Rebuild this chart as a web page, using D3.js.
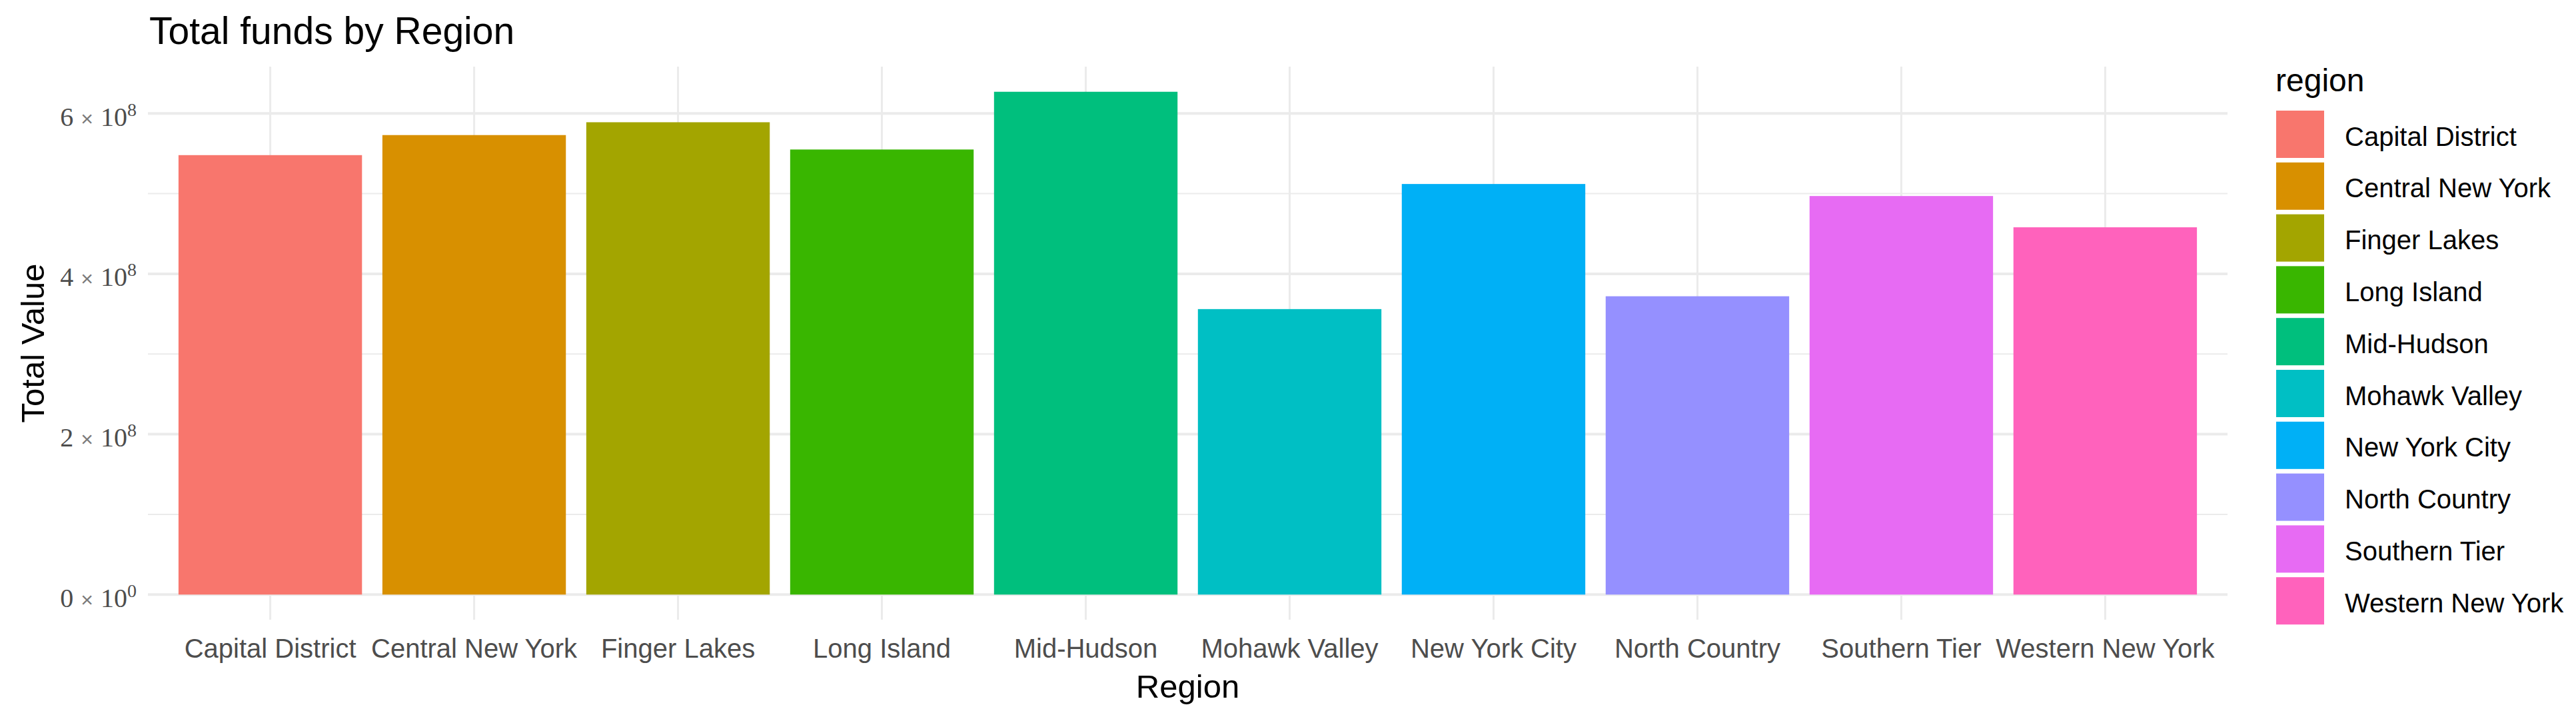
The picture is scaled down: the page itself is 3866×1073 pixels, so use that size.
<!DOCTYPE html>
<html>
<head>
<meta charset="utf-8">
<script src="https://cdn.jsdelivr.net/npm/d3@7"></script>
<style>
  html, body { margin: 0; padding: 0; background: #ffffff; }
  svg { display: block; }
</style>
</head>
<body>
<script>
// ---- data ----
const categories = ["Capital District", "Central New York", "Finger Lakes", "Long Island", "Mid-Hudson",
                    "Mohawk Valley", "New York City", "North Country", "Southern Tier", "Western New York"];
const totals = [5.48e8, 5.73e8, 5.89e8, 5.55e8, 6.27e8, 3.56e8, 5.12e8, 3.72e8, 4.97e8, 4.58e8];
const barColors = ["#F8766D", "#D89000", "#A3A500", "#39B600", "#00BF7D",
                   "#00BFC4", "#00B0F6", "#9590FF", "#E76BF3", "#FF62BC"];
const yMajorTicks = [0, 2e8, 4e8, 6e8];
const yMinorTicks = [1e8, 3e8, 5e8];
const yTickMantissa = ["0", "2", "4", "6"];
const yTickExponent = ["0", "8", "8", "8"];
const titleText = "Total funds by Region";
const xTitle = "Region";
const yTitle = "Total Value";
const legendTitle = "region";

// ---- layout ----
const W = 3866, H = 1073;
const panel = { left: 222, right: 3343, top: 100, bottom: 930 };
const sans = "'Liberation Sans', Arial, sans-serif";
const serif = "'Liberation Serif', 'Times New Roman', serif";

const svg = d3.select("body").append("svg")
  .attr("width", W).attr("height", H)
  .attr("viewBox", `0 0 ${W} ${H}`);

svg.append("rect").attr("width", W).attr("height", H).attr("fill", "#ffffff");

const x = d3.scaleBand()
  .domain(categories)
  .range([panel.left, panel.right])
  .paddingInner(0.1)
  .paddingOuter(0.15);

const yMax = d3.max(totals);
const y = d3.scaleLinear()
  .domain([-0.05 * yMax, 1.05 * yMax])
  .range([panel.bottom, panel.top]);

const color = d3.scaleOrdinal().domain(categories).range(barColors);

// ---- grid ----
const grid = svg.append("g");
grid.selectAll("line.minor").data(yMinorTicks).join("line")
  .attr("x1", panel.left).attr("x2", panel.right)
  .attr("y1", d => y(d)).attr("y2", d => y(d))
  .attr("stroke", "#EBEBEB").attr("stroke-width", 2);
grid.selectAll("line.majory").data(yMajorTicks).join("line")
  .attr("x1", panel.left).attr("x2", panel.right)
  .attr("y1", d => y(d)).attr("y2", d => y(d))
  .attr("stroke", "#EBEBEB").attr("stroke-width", 4);
grid.selectAll("line.majorx").data(categories).join("line")
  .attr("x1", d => x(d) + x.bandwidth() / 2).attr("x2", d => x(d) + x.bandwidth() / 2)
  .attr("y1", panel.top).attr("y2", panel.bottom)
  .attr("stroke", "#EBEBEB").attr("stroke-width", 3);

// ---- bars ----
svg.append("g").selectAll("rect").data(categories).join("rect")
  .attr("x", d => x(d))
  .attr("width", x.bandwidth())
  .attr("y", (d, i) => y(totals[i]))
  .attr("height", (d, i) => y(0) - y(totals[i]))
  .attr("fill", d => color(d));

// ---- x axis ----
const xAxis = svg.append("g")
  .attr("transform", `translate(0, ${panel.bottom})`)
  .call(d3.axisBottom(x).tickSize(0).tickPadding(0));
xAxis.select(".domain").remove();
xAxis.selectAll("text")
  .attr("y", 57).attr("dy", null)
  .attr("font-family", sans).attr("font-size", 40).attr("fill", "#4D4D4D");

// ---- y axis ----
const yAxis = svg.append("g")
  .attr("transform", `translate(205, 0)`)
  .call(d3.axisLeft(y).tickValues(yMajorTicks).tickSize(0).tickPadding(0).tickFormat(""));
yAxis.select(".domain").remove();
yAxis.selectAll(".tick text").each(function(d) {
  const i = yMajorTicks.indexOf(d);
  const t = d3.select(this)
    .attr("x", 0).attr("dy", null).attr("y", 18)
    .attr("text-anchor", "end")
    .attr("font-family", serif).attr("font-size", 40).attr("fill", "#4D4D4D");
  t.text(null);
  t.append("tspan").text(yTickMantissa[i]);
  t.append("tspan").attr("dx", 11).attr("font-family", sans).attr("font-size", 32).attr("fill", "#7a7a7a").text("×");
  t.append("tspan").attr("dx", 11).text("10");
  t.append("tspan").attr("dy", -15).attr("font-size", 28).text(yTickExponent[i]);
});

// ---- titles ----
svg.append("text")
  .attr("x", 224).attr("y", 66)
  .attr("font-family", sans).attr("font-size", 57).attr("fill", "#000000")
  .text(titleText);

svg.append("text")
  .attr("x", (panel.left + panel.right) / 2).attr("y", 1047)
  .attr("text-anchor", "middle")
  .attr("font-family", sans).attr("font-size", 49).attr("fill", "#000000")
  .text(xTitle);

svg.append("text")
  .attr("transform", `translate(66, ${(panel.top + panel.bottom) / 2}) rotate(-90)`)
  .attr("text-anchor", "middle")
  .attr("font-family", sans).attr("font-size", 49).attr("fill", "#000000")
  .text(yTitle);

// ---- legend ----
const legend = svg.append("g");
legend.append("text")
  .attr("x", 3415).attr("y", 137)
  .attr("font-family", sans).attr("font-size", 48).attr("fill", "#000000")
  .text(legendTitle);
const keyTop = 166, keyPitch = 77.8;
const items = legend.selectAll("g.item").data(categories).join("g")
  .attr("transform", (d, i) => `translate(3416, ${keyTop + i * keyPitch})`);
items.append("rect")
  .attr("x", 0).attr("y", 0).attr("width", 72).attr("height", 71)
  .attr("fill", d => color(d));
items.append("text")
  .attr("x", 103).attr("y", 35.5 + 17)
  .attr("font-family", sans).attr("font-size", 40).attr("fill", "#000000")
  .text(d => d);
</script>
</body>
</html>
